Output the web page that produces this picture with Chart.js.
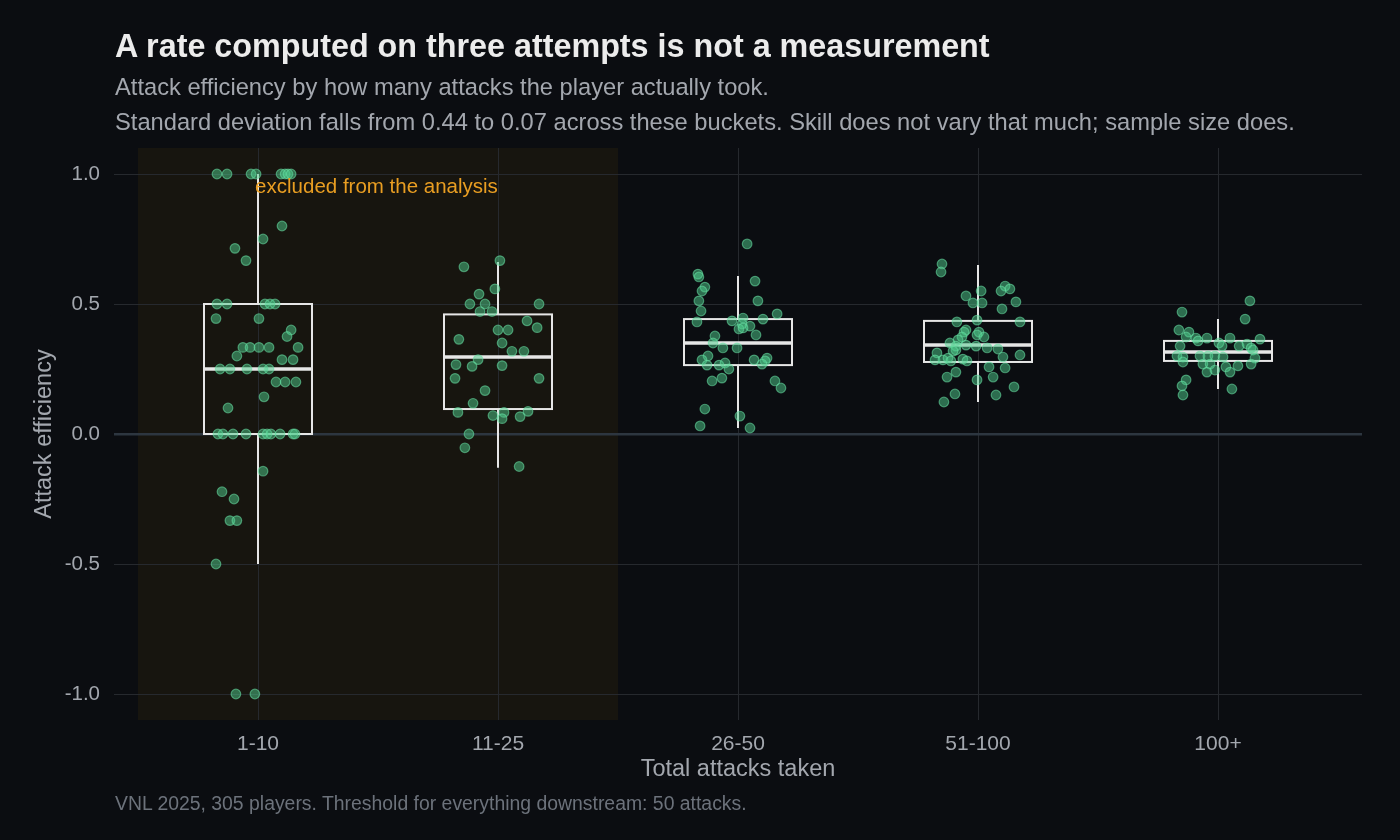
<!DOCTYPE html>
<html>
<head>
<meta charset="utf-8">
<script src="https://cdn.jsdelivr.net/npm/chart.js@4"></script>
<style>
  html, body { margin: 0; padding: 0; background: #0b0d11; }
  #wrap { position: relative; width: 1400px; height: 840px; font-family: "Liberation Sans", Arial, sans-serif; }
  #chart { position: absolute; left: 0; top: 0; }
  .txt { position: absolute; left: 115px; white-space: nowrap; }
  #title { top: 27px; font-size: 32.3px; line-height: 38px; font-weight: bold; color: #ececec; }
  #sub1 { top: 73px; font-size: 23.7px; line-height: 28px; color: #a3a7ae; }
  #sub2 { top: 108px; font-size: 23.7px; line-height: 28px; color: #a3a7ae; }
  #caption { top: 792px; font-size: 19.4px; line-height: 22px; color: #6c727b; }
</style>
</head>
<body>
<div id="wrap">
  <canvas id="chart" width="1400" height="840"></canvas>
  <div class="txt" id="title">A rate computed on three attempts is not a measurement</div>
  <div class="txt" id="sub1">Attack efficiency by how many attacks the player actually took.</div>
  <div class="txt" id="sub2">Standard deviation falls from 0.44 to 0.07 across these buckets. Skill does not vary that much; sample size does.</div>
  <div class="txt" id="caption">VNL 2025, 305 players. Threshold for everything downstream: 50 attacks.</div>
</div>
<script>
// buckets of total attacks
const categories = ['1-10', '11-25', '26-50', '51-100', '100+'];

// box plot summaries per bucket
const whiskerLow = [-0.5, -0.13, 0.023, 0.123, 0.173];
const boxQ1      = [0.0, 0.096, 0.265, 0.277, 0.281];
const boxMedian  = [0.25, 0.296, 0.35, 0.342, 0.315];
const boxQ3      = [0.5, 0.46, 0.442, 0.435, 0.358];
const whiskerHigh = [1.0, 0.662, 0.608, 0.65, 0.442];

// players: [jitter, efficiency]
const players_1_10 = [
  [-0.171, 1.0], [-0.129, 1.0], [-0.029, 1.0], [-0.008, 1.0], [0.096, 1.0], [0.113, 1.0], [0.125, 1.0], [0.138, 1.0],
  [0.100, 0.8], [0.021, 0.75], [-0.096, 0.714], [-0.05, 0.667],
  [-0.171, 0.5], [-0.129, 0.5], [0.029, 0.5], [0.05, 0.5], [0.071, 0.5],
  [-0.175, 0.444], [0.004, 0.444], [0.138, 0.4], [0.121, 0.375],
  [-0.063, 0.333], [-0.033, 0.333], [0.004, 0.333], [0.046, 0.333], [0.167, 0.333],
  [-0.088, 0.3], [0.1, 0.286], [0.146, 0.286],
  [-0.158, 0.25], [-0.117, 0.25], [-0.046, 0.25], [0.021, 0.25], [0.046, 0.25],
  [0.075, 0.2], [0.113, 0.2], [0.158, 0.2], [0.025, 0.143], [-0.125, 0.1],
  [-0.167, 0.0], [-0.146, 0.0], [-0.104, 0.0], [-0.05, 0.0], [0.021, 0.0], [0.038, 0.0], [0.054, 0.0], [0.092, 0.0], [0.146, 0.0], [0.154, 0.0],
  [0.021, -0.143], [-0.15, -0.222], [-0.1, -0.25], [-0.117, -0.333], [-0.088, -0.333],
  [-0.175, -0.5], [-0.092, -1.0], [-0.013, -1.0]
];
const players_11_25 = [
  [0.008, 0.667], [-0.142, 0.643], [-0.013, 0.558], [-0.079, 0.538], [-0.117, 0.5], [-0.054, 0.5], [0.171, 0.5],
  [-0.075, 0.471], [-0.025, 0.471], [0.121, 0.435], [0.163, 0.409], [0.0, 0.4], [0.042, 0.4],
  [-0.163, 0.364], [0.017, 0.35], [0.058, 0.318], [0.108, 0.318], [-0.083, 0.286], [-0.175, 0.267],
  [-0.108, 0.26], [0.017, 0.263], [-0.179, 0.214], [0.171, 0.214], [-0.054, 0.167], [-0.104, 0.118],
  [-0.167, 0.083], [-0.021, 0.071], [0.025, 0.083], [0.017, 0.059], [0.092, 0.067], [0.125, 0.087],
  [-0.121, 0.0], [-0.138, -0.053], [0.088, -0.125]
];
const players_26_50 = [
  [0.038, 0.731], [-0.167, 0.615], [-0.163, 0.604], [-0.138, 0.565], [-0.15, 0.55], [0.071, 0.588],
  [-0.163, 0.512], [0.083, 0.512], [-0.154, 0.473], [0.163, 0.462], [0.104, 0.442], [-0.171, 0.431],
  [-0.025, 0.435], [0.021, 0.446], [0.017, 0.423], [0.05, 0.415], [0.004, 0.404], [0.021, 0.408],
  [-0.096, 0.377], [0.075, 0.381], [-0.104, 0.35], [-0.063, 0.331], [-0.004, 0.331], [-0.125, 0.3],
  [-0.15, 0.285], [-0.129, 0.265], [-0.079, 0.265], [-0.054, 0.273], [-0.038, 0.25], [0.067, 0.285],
  [0.121, 0.292], [0.113, 0.281], [0.1, 0.269], [-0.108, 0.204], [-0.067, 0.215], [0.154, 0.204],
  [0.179, 0.177], [-0.138, 0.096], [0.008, 0.069], [-0.158, 0.031], [0.05, 0.023]
];
const players_51_100 = [
  [-0.15, 0.654], [-0.154, 0.623], [0.113, 0.569], [0.096, 0.55], [0.133, 0.558], [0.013, 0.55],
  [-0.05, 0.531], [-0.021, 0.504], [0.017, 0.504], [0.158, 0.508], [0.1, 0.481], [-0.088, 0.431],
  [-0.004, 0.438], [0.175, 0.431], [-0.05, 0.4], [-0.058, 0.392], [0.004, 0.392], [-0.004, 0.381],
  [0.025, 0.373], [-0.067, 0.373], [-0.083, 0.362], [-0.117, 0.35], [-0.092, 0.338], [-0.05, 0.342],
  [-0.008, 0.338], [0.038, 0.331], [0.083, 0.327], [-0.092, 0.323], [-0.104, 0.319], [-0.171, 0.312],
  [-0.179, 0.285], [-0.146, 0.285], [-0.125, 0.292], [-0.113, 0.281], [-0.063, 0.288], [-0.046, 0.281],
  [0.104, 0.296], [0.175, 0.304], [0.046, 0.258], [0.113, 0.254], [-0.092, 0.238], [-0.129, 0.219],
  [-0.004, 0.208], [0.063, 0.219], [0.15, 0.181], [-0.096, 0.154], [0.075, 0.15], [-0.142, 0.123]
];
const players_100plus = [
  [0.133, 0.512], [-0.15, 0.469], [0.113, 0.442], [-0.163, 0.4], [-0.121, 0.392], [-0.133, 0.373],
  [-0.092, 0.369], [-0.083, 0.358], [-0.046, 0.369], [0.05, 0.369], [0.175, 0.365], [0.004, 0.35],
  [-0.158, 0.338], [0.017, 0.338], [0.088, 0.338], [0.121, 0.346], [0.138, 0.331], [0.146, 0.323],
  [-0.171, 0.3], [-0.146, 0.296], [-0.075, 0.3], [-0.042, 0.3], [-0.013, 0.3], [0.021, 0.296],
  [0.154, 0.292], [-0.146, 0.277], [-0.063, 0.269], [-0.033, 0.269], [0.033, 0.258], [0.083, 0.262],
  [0.138, 0.269], [-0.046, 0.238], [-0.013, 0.246], [0.05, 0.238], [-0.133, 0.208], [-0.15, 0.185],
  [-0.146, 0.15], [0.058, 0.173]
];
const playerGroups = [players_1_10, players_11_25, players_26_50, players_51_100, players_100plus];

// shaded region and its note
const excludedFrom = -0.5, excludedTo = 1.5;
const noteText = 'excluded from the analysis';
const noteX = -0.012, noteY = 0.95;

const yTicks = [-1.0, -0.5, 0.0, 0.5, 1.0];
const BOX_W = 0.45;
const FONT = '"Liberation Sans", Arial, sans-serif';

const shadePlugin = {
  id: 'shade',
  beforeDraw(chart) {
    const { ctx, chartArea, scales: { x } } = chart;
    const l = x.getPixelForValue(excludedFrom), r = x.getPixelForValue(excludedTo);
    ctx.save();
    ctx.fillStyle = '#17150f';
    ctx.fillRect(l, chartArea.top, r - l, chartArea.bottom - chartArea.top);
    ctx.restore();
  }
};

const boxPlugin = {
  id: 'boxes',
  beforeDatasetsDraw(chart) {
    const { ctx, scales: { x, y } } = chart;
    ctx.save();
    ctx.strokeStyle = '#e6e6e6';
    categories.forEach((c, i) => {
      const cx = x.getPixelForValue(i);
      const l = x.getPixelForValue(i - BOX_W / 2), r = x.getPixelForValue(i + BOX_W / 2);
      const q1 = y.getPixelForValue(boxQ1[i]), q3 = y.getPixelForValue(boxQ3[i]);
      // whiskers
      ctx.lineWidth = 2;
      ctx.beginPath();
      ctx.moveTo(cx, y.getPixelForValue(whiskerHigh[i])); ctx.lineTo(cx, q3);
      ctx.moveTo(cx, q1); ctx.lineTo(cx, y.getPixelForValue(whiskerLow[i]));
      ctx.stroke();
      ctx.strokeRect(l, q3, r - l, q1 - q3);
      // median
      ctx.lineWidth = 3.5;
      const m = y.getPixelForValue(boxMedian[i]);
      ctx.beginPath(); ctx.moveTo(l, m); ctx.lineTo(r, m); ctx.stroke();
    });
    ctx.restore();
  },
  afterDatasetsDraw(chart) {
    const { ctx, scales: { x, y } } = chart;
    ctx.save();
    ctx.fillStyle = '#e99e22';
    ctx.font = '20.5px ' + FONT;
    ctx.textBaseline = 'middle';
    ctx.fillText(noteText, x.getPixelForValue(noteX), y.getPixelForValue(noteY));
    ctx.restore();
  }
};

new Chart(document.getElementById('chart'), {
  type: 'scatter',
  data: {
    datasets: playerGroups.map((g, i) => ({
      label: categories[i],
      data: g.map(p => ({ x: i + p[0], y: p[1] })),
      pointRadius: 4.8,
      pointBackgroundColor: 'rgba(80, 206, 142, 0.5)',
      pointBorderColor: 'rgba(105, 225, 165, 0.55)',
      pointBorderWidth: 1.2
    }))
  },
  options: {
    responsive: false,
    animation: false,
    layout: { padding: { left: 30, right: 38, top: 148, bottom: 52 } },
    plugins: { legend: { display: false }, tooltip: { enabled: false } },
    scales: {
      x: {
        type: 'linear', min: -0.6, max: 4.6,
        afterBuildTicks: s => { s.ticks = categories.map((c, i) => ({ value: i })); },
        afterFit: s => { s.height = 68; },
        ticks: { callback: v => categories[v], color: '#a3a7ae', font: { size: 21, family: FONT }, padding: 12 },
        grid: { color: '#26292e', lineWidth: 1, drawTicks: false },
        border: { display: false },
        title: { display: true, text: 'Total attacks taken', color: '#a3a7ae', font: { size: 23.5, family: FONT }, padding: { top: 0, bottom: 4 } }
      },
      y: {
        min: -1.1, max: 1.1,
        afterBuildTicks: s => { s.ticks = yTicks.map(v => ({ value: v })); },
        afterFit: s => { s.width = 84; },
        ticks: { callback: v => v.toFixed(1), color: '#a3a7ae', font: { size: 20.5, family: FONT }, padding: 14 },
        grid: {
          color: ctx => ctx.tick && ctx.tick.value === 0 ? '#2d3640' : '#26292e',
          lineWidth: ctx => ctx.tick && ctx.tick.value === 0 ? 2.5 : 1,
          drawTicks: false
        },
        border: { display: false },
        title: { display: true, text: 'Attack efficiency', color: '#a3a7ae', font: { size: 23.5, family: FONT }, padding: { top: 0, bottom: 4 } }
      }
    }
  },
  plugins: [shadePlugin, boxPlugin]
});
</script>
</body>
</html>
